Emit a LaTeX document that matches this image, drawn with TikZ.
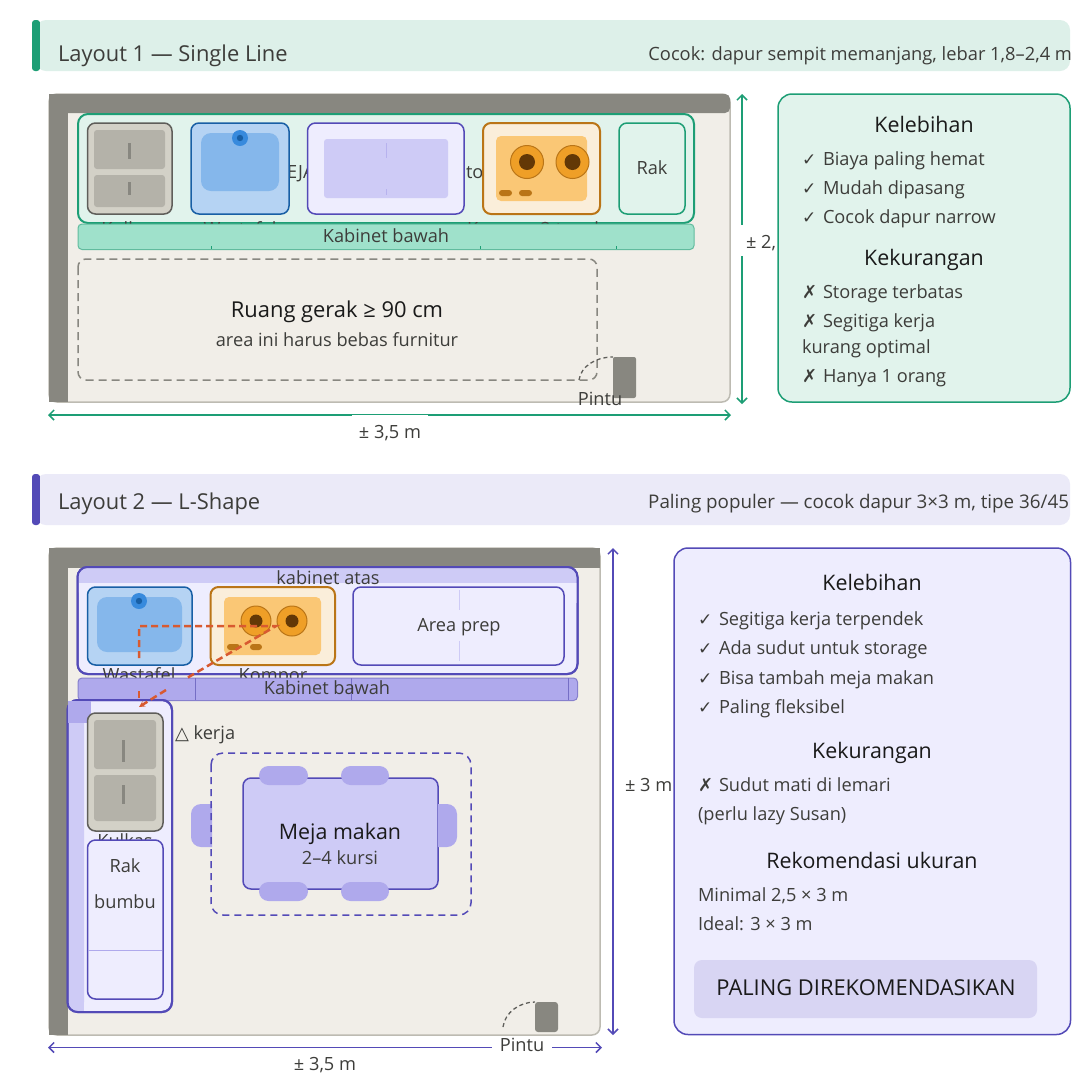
\documentclass[tikz,border=0pt]{standalone}
\usepackage{fontspec}
\setmainfont{Open Sans}
\newfontfamily\symf{DejaVu Sans}
\usetikzlibrary{arrows.meta}
\definecolor{grn}{HTML}{1D9E75}
\definecolor{grnL}{HTML}{E1F3EC}
\definecolor{grnH}{HTML}{DDF0E9}
\definecolor{grnM}{HTML}{9FE1CB}
\definecolor{pur}{HTML}{534AB7}
\definecolor{purL}{HTML}{EEEDFE}
\definecolor{purH}{HTML}{EBEAF8}
\definecolor{purM}{HTML}{CECBF6}
\definecolor{purD}{HTML}{AFA9EC}
\definecolor{purB}{HTML}{D8D5F3}
\definecolor{wall}{HTML}{888780}
\definecolor{floorc}{HTML}{F1EEE8}
\definecolor{floore}{HTML}{BDBBB2}
\definecolor{fridge}{HTML}{D3D1C7}
\definecolor{fridgeI}{HTML}{B4B2A9}
\definecolor{fridgeE}{HTML}{5F5E5A}
\definecolor{sinkB}{HTML}{B5D3F3}
\definecolor{sinkI}{HTML}{85B7EB}
\definecolor{sinkE}{HTML}{185FA5}
\definecolor{sinkF}{HTML}{378ADD}
\definecolor{stoveB}{HTML}{FAEEDA}
\definecolor{stoveI}{HTML}{FAC775}
\definecolor{stoveE}{HTML}{BA7517}
\definecolor{burn}{HTML}{EF9F27}
\definecolor{burnI}{HTML}{633806}
\definecolor{tri}{HTML}{D85A30}
\definecolor{body}{HTML}{3D3D3A}
\definecolor{head}{HTML}{1A1A1A}
\newcommand{\ck}{\makebox[21pt][l]{\symf\fontsize{17}{17}\selectfont ✓}}
\newcommand{\xk}{\makebox[21pt][l]{\symf\fontsize{18}{18}\selectfont ✗}}
\tikzset{
  x=1pt,y=-1pt,
  every node/.style={inner sep=0pt,outer sep=0pt,text=body},
  sA/.style={font=\fontsize{21.4}{21.4}\selectfont,text height=16pt,text depth=1.5pt},
  sH/.style={font=\fontsize{21.9}{21.9}\selectfont,text height=16pt,text depth=1.5pt},
  sC/.style={font=\fontsize{18.2}{18.2}\selectfont,text height=13pt,text depth=.5pt},
  sR/.style={font=\fontsize{18.8}{18.8}\selectfont,text height=13pt,text depth=.5pt},
  head/.style={text=head},
  lft/.style={anchor=west},
  boxg/.style={fill=grnL,draw=grn,line width=1.5pt,rounded corners=8pt},
  boxp/.style={fill=purL,draw=pur,line width=1.5pt,rounded corners=8pt},
  frameg/.style={fill=grnL,draw=grn,line width=2pt,rounded corners=10pt},
  framep/.style={fill=purL,draw=pur,line width=2pt,rounded corners=10pt},
  room/.style={fill=floorc,draw=floore,line width=1.5pt,rounded corners=8pt},
  wallc/.style={fill=wall,rounded corners=2pt},
  fridgeo/.style={fill=fridge,draw=fridgeE,line width=1.5pt,rounded corners=8pt},
  fridgei/.style={fill=fridgeI,rounded corners=3pt},
  handle/.style={fill=wall},
  sinko/.style={fill=sinkB,draw=sinkE,line width=1.5pt,rounded corners=8pt},
  sinki/.style={fill=sinkI,rounded corners=10pt},
  stoveo/.style={fill=stoveB,draw=stoveE,line width=2pt,rounded corners=8pt},
  stovei/.style={fill=stoveI,rounded corners=5pt},
  burner/.style={fill=burn,draw=stoveE,line width=1pt},
  knob/.style={fill=stoveE,rounded corners=3pt},
  dimg/.style={draw=grn,line width=1.5pt},
  dimp/.style={draw=pur,line width=1.5pt},
  tip/.style={{Straight Barb[length=5pt,width=10pt]}-{Straight Barb[length=5pt,width=10pt]}},
  swing/.style={draw=fridgeE,line width=1.3pt,dash pattern=on 4pt off 3pt},
  chair/.style={fill=purD,rounded corners=9.5pt},
  tridash/.style={draw=tri,line width=2.5pt,dash pattern=on 7pt off 4pt},
}
\begin{document}
\begin{tikzpicture}
\useasboundingbox (0,0) rectangle (1080,1080);
\fill[white] (0,0) rectangle (1080,1080);

%% ---------- Layout 1 header
\fill[grn,rounded corners=3pt] (32,20) rectangle (40,71);
\fill[grnH,rounded corners=10pt] (36,20) rectangle (1070,71);
\fill[grn] (36,22) rectangle (40,69);
\node (h1) [sH,lft] at (58,54) {Layout 1 — Single Line};
\node (h1r) [sC,font=\fontsize{18.3}{18.3}\selectfont,anchor=east] at (1072,54) {Cocok: dapur sempit memanjang, lebar 1,8–2,4 m};

%% ---------- Room 1
\draw[room] (49,94) rectangle (730,402);
\fill[wallc,rounded corners=5pt] (49,94) rectangle (730,113);
\fill[wall] (49,94) rectangle (68,402);
\draw[frameg] (78,114) rectangle (694,223);
\node (t1a) [sC,lft] at (287,172) {EJA};
\node (t1b) [sC,lft] at (466,172) {to};
\node (l1a) [sC] at (129,229) {Kulkas};
\node (l1b) [sC] at (240,229) {Wastafel};
\node (l1c) [sC] at (541,229) {Kompor 2 tungku};
% fridge
\draw[fridgeo] (87.5,123) rectangle (172,214);
\fill[fridgei] (94,130) rectangle (165,169);
\fill[fridgei] (94,175) rectangle (165,207);
\fill[handle] (128,143) rectangle (131,159);
\fill[handle] (128,182) rectangle (131,195);
% sink
\draw[sinko] (191,123) rectangle (289,214);
\fill[sinki] (201,133) rectangle (279,191);
\fill[sinkF] (240,138) circle (8);
\fill[sinkE] (240,138) circle (3.2);
% prep
\draw[boxp] (307.5,123) rectangle (464,214);
\fill[purM,rounded corners=3pt] (324,139) rectangle (448,198);
\draw[draw=purD!90,line width=.8pt] (386,143) -- (386,158) (386,189) -- (386,195);
% stove
\draw[stoveo] (483,123) rectangle (600,214);
\fill[stovei] (496,136) rectangle (587,201);
\draw[burner] (527,162) circle (16.5);
\fill[burnI] (527,162) circle (8);
\draw[burner] (572.5,162) circle (16.5);
\fill[burnI] (572.5,162) circle (8);
\fill[knob] (499,190) rectangle (512,196);
\fill[knob] (519,190) rectangle (532,196);
% rak
\draw[boxg] (619,123) rectangle (685,214);
\node (rak1) [sC] at (652,168) {Rak};
% base cabinet
\draw[fill=grnM,draw=grn!70,line width=1pt,rounded corners=4pt] (78,224) rectangle (694,249.5);
\draw[grn,line width=.8pt] (211,246) -- (211,249) (480,246) -- (480,249) (616,246) -- (616,249);
\node (kb1) [sC] at (386,236) {Kabinet bawah};
% clearance
\draw[draw=wall,line width=1.5pt,dash pattern=on 8pt off 5pt,rounded corners=8pt] (78,259) rectangle (597,380);
\node (rg) [sH,head] at (337,310) {Ruang gerak ≥ 90 cm};
\node (rg2) [sC] at (337,340) {area ini harus bebas furnitur};
% door
\fill[wallc] (613,357) rectangle (636,398);
\coordinate (d1a) at (579,380); \coordinate (d1b) at (613,357);
\draw[swing] (d1a) .. controls (581,366) and (596,357) .. (d1b);
\node (p1) [sC] at (600,399) {Pintu};
% dims
\coordinate (dh1a) at (48,415); \coordinate (dh1b) at (731,415);
\draw[dimg,tip] (dh1a) -- (dh1b);
\fill[white] (352,415.3) rectangle (428,418);
\node (dl1) [sC] at (390,432) {± 3,5 m};
\coordinate (dv1a) at (742,94); \coordinate (dv1b) at (742,404);
\draw[dimg,tip] (dv1a) -- (dv1b);
\fill[white] (738,225) rectangle (746,256);
\node (dl2) [sC,lft] at (746,242) {± 2,};

%% ---------- Panel 1
\draw[fill=grnL,draw=grn,line width=1.5pt,rounded corners=14pt] (778,94) rectangle (1070,402);
\node (k1) [sA,head] at (924,125) {Kelebihan};
\node (i1) [sC,lft] at (802,159) {\ck Biaya paling hemat};
\node (i2) [sC,lft] at (802,188) {\ck Mudah dipasang};
\node (i3) [sC,lft] at (802,217) {\ck Cocok dapur narrow};
\node (k2) [sA,head] at (924,258) {Kekurangan};
\node (i4) [sC,lft] at (802,292) {\xk Storage terbatas};
\node (i5) [sC,lft] at (802,321) {\xk Segitiga kerja};
\node (i6) [sC,lft] at (802,347) {kurang optimal};
\node (i7) [sC,lft] at (802,376) {\xk Hanya 1 orang};

%% ---------- Layout 2 header
\fill[pur,rounded corners=3pt] (32,474) rectangle (40,525);
\fill[purH,rounded corners=10pt] (36,474) rectangle (1070,525);
\fill[pur] (36,476) rectangle (40,523);
\node (h2) [sH,lft] at (58,502) {Layout 2 — L-Shape};
\node (h2r) [sR,anchor=east] at (1069,502) {Paling populer — cocok dapur 3×3 m, tipe 36/45};

%% ---------- Room 2
\draw[room] (49,548) rectangle (600,1035);
\fill[wall] (49,548) rectangle (600,568);
\fill[wall] (49,548) rectangle (68,1035);
% upper run
\draw[framep] (77.5,567) rectangle (577.5,674);
\fill[purM,rounded corners=9pt] (78.5,568) -- (576.5,568) -- (576.5,600) -- (78.5,600) -- cycle;
\fill[purL] (78.5,583) rectangle (576.5,603);
\draw[draw=pur,line width=2pt,rounded corners=10pt] (77.5,567) rectangle (577.5,674);
\node (ka) [sC] at (328,578) {kabinet atas};
\node (l2a) [sC] at (139,675) {Wastafel};
\node (l2b) [sC] at (273,675) {Kompor};
\draw[sinko] (87.5,587) rectangle (192,665);
\fill[sinki] (97,597) rectangle (182,652);
\fill[sinkF] (139,601) circle (8);
\fill[sinkE] (139,601) circle (3.2);
\draw[stoveo] (210.5,587) rectangle (335,665);
\fill[stovei] (224,597) rectangle (321,655);
\draw[burner] (256,621) circle (15);
\fill[burnI] (256,621) circle (6.5);
\draw[burner] (292,621) circle (15);
\fill[burnI] (292,621) circle (6.5);
\fill[knob] (227,644) rectangle (240,650);
\fill[knob] (250,644) rectangle (262,650);
\draw[boxp] (353,587) rectangle (564,665);
\draw[draw=purM,line width=1pt] (459,590) -- (459,610) (459,641) -- (459,661);
\node (ap) [sC] at (459,625) {Area prep};
% base cabinet
\draw[fill=purD,draw=pur!70,line width=1pt,rounded corners=4pt] (78,678) rectangle (577.5,700.5);
\draw[pur!80,line width=.8pt] (195,678) -- (195,700) (351,678) -- (351,700) (568,678) -- (568,700);
\node (kb2) [sC] at (327,688) {Kabinet bawah};
% left run
\draw[framep] (67.5,700) rectangle (172,1012);
\fill[purM,rounded corners=9pt] (68.5,701) -- (84,701) -- (84,1011) -- (68.5,1011) -- cycle;
\fill[purM] (76,701) rectangle (84,1011);
\draw[draw=pur,line width=2pt,rounded corners=10pt] (67.5,700) rectangle (172,1012);
\fill[purD] (68,701) rectangle (91,723);
\node (l2c) [sC] at (125,841) {Kulkas};
\draw[fridgeo] (87.5,713) rectangle (163,831);
\fill[fridgei] (94,720) rectangle (156,769);
\fill[fridgei] (94,775) rectangle (156,821);
\fill[handle] (122,740) rectangle (125,762);
\fill[handle] (122,785) rectangle (125,804);
\draw[boxp] (87.5,840) rectangle (163,999);
\draw[draw=purD,line width=1pt] (88,950) -- (162,950);
\node (rb1) [sC] at (125,866) {Rak};
\node (rb2) [sC] at (125,902) {bumbu};
\node (tk) [sC,lft] at (175,733) {{\symf\fontsize{18}{18}\selectfont △} kerja};
% work triangle
\coordinate (tA) at (276,626); \coordinate (tB) at (139,626);
\coordinate (tC) at (139,658); \coordinate (tD) at (187,678);
\coordinate (tE) at (139,691); \coordinate (tF) at (139,700);
\coordinate (tG) at (166,690); \coordinate (tH) at (139,707);
\draw[tridash] (tC) -- (tB) -- (tA) -- (tD);
\draw[tridash] (tE) -- (tF);
\draw[tridash,-{Stealth[length=6pt,width=6pt]}] (tG) -- (tH);
% dining
\draw[fill=purM,draw=pur,line width=1.5pt,rounded corners=8pt] (243,778) rectangle (438,889);
\fill[chair] (259,766) rectangle (308,785);
\fill[chair] (341,766) rectangle (389,785);
\fill[chair] (259,882) rectangle (308,901);
\fill[chair] (341,882) rectangle (389,901);
\begin{scope}
  \clip (191,804) rectangle (212,847);
  \fill[fill=purD,rounded corners=10pt] (191,804) rectangle (231,847);
\end{scope}
\begin{scope}
  \clip (438,804) rectangle (457,847);
  \fill[fill=purD,rounded corners=10pt] (418,804) rectangle (457,847);
\end{scope}
\draw[draw=pur,line width=1.5pt,dash pattern=on 7pt off 5pt,rounded corners=12pt] (211,753) rectangle (471,915);
\node (mm) [sA,head] at (340,832) {Meja makan};
\node (mm2) [sC] at (340,858) {2–4 kursi};
% door
\fill[wallc,rounded corners=3pt] (535,1002) rectangle (558,1032);
\coordinate (d2a) at (503,1027); \coordinate (d2b) at (535,1002);
\draw[swing] (d2a) .. controls (505,1012) and (520,1002) .. (d2b);
% dims
\coordinate (dh2a) at (48,1047.5); \coordinate (dh2b) at (602,1047.5);
\draw[dimp,tip] (dh2a) -- (dh2b);
\fill[white] (287,1047.8) rectangle (362,1051);
\fill[white] (492,1040) rectangle (552,1053);
\node (p2) [sC] at (522,1045) {Pintu};
\node (dl3) [sC] at (325,1064) {± 3,5 m};
\coordinate (dv2a) at (613,548); \coordinate (dv2b) at (613,1035);
\draw[dimp,tip] (dv2a) -- (dv2b);
\node (dl4) [sC,lft] at (625,785) {± 3 m};

%% ---------- Panel 2
\draw[fill=purL,draw=pur,line width=1.5pt,rounded corners=14pt] (674,548) rectangle (1070.5,1034.5);
\node (k3) [sA,head] at (872,583) {Kelebihan};
\node (j1) [sC,lft] at (698,619) {\ck Segitiga kerja terpendek};
\node (j2) [sC,lft] at (698,648.5) {\ck Ada sudut untuk storage};
\node (j3) [sC,lft] at (698,678) {\ck Bisa tambah meja makan};
\node (j4) [sC,lft] at (698,707) {\ck Paling fleksibel};
\node (k4) [sA,head] at (872,751.5) {Kekurangan};
\node (j5) [sC,lft] at (698,785) {\xk Sudut mati di lemari};
\node (j6) [sC,lft] at (698,814) {(perlu lazy Susan)};
\node (k5) [sA,head] at (872,861) {Rekomendasi ukuran};
\node (j7) [sC,lft] at (698,895) {Minimal 2,5 × 3 m};
\node (j8) [sC,lft] at (698,924) {Ideal: 3 × 3 m};
\fill[purB,rounded corners=8pt] (694,960) rectangle (1037,1018);
\node (rec) [sH,head] at (866,988) {PALING DIREKOMENDASIKAN};
\end{tikzpicture}
\end{document}
